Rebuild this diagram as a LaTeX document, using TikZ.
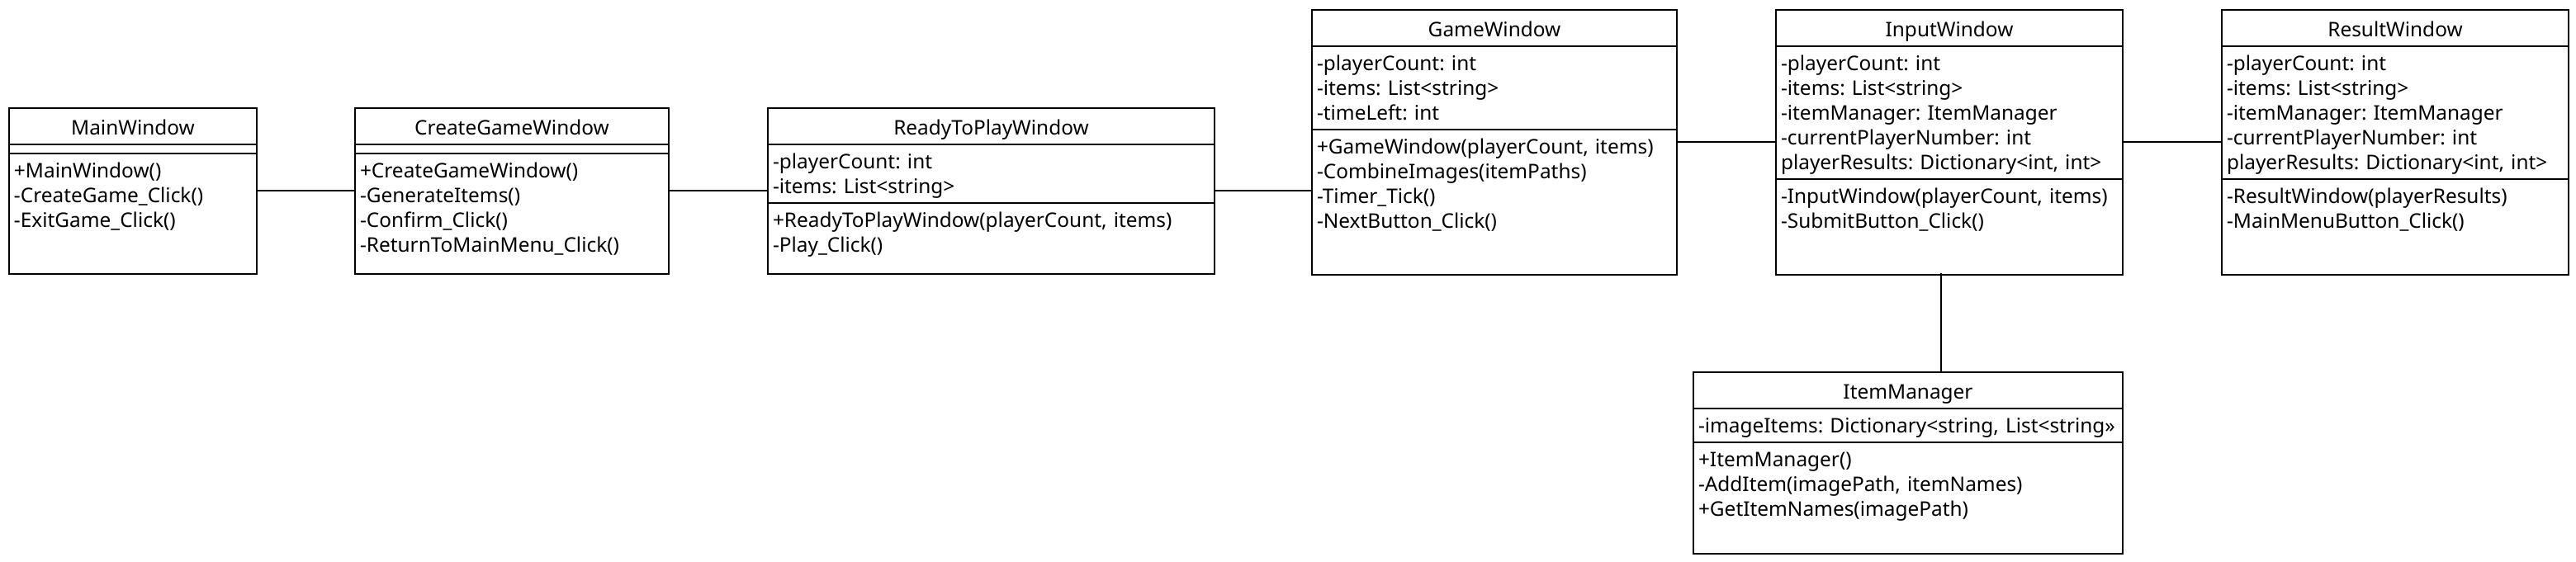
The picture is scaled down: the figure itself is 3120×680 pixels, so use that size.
\documentclass[tikz,border=0pt]{standalone}
\usepackage{fontspec}
\setmainfont{Noto Sans}
\frenchspacing
\usetikzlibrary{positioning}

\begin{document}
\begin{tikzpicture}[%
  x=0.5pt, y=-0.5pt,
  line width=1pt,
  every node/.style={outer sep=0pt},
  cls/.style={anchor=north west, inner sep=0pt},
  ctitle/.style={draw, anchor=north west, minimum height=21.5pt, inner xsep=3pt,
    text height=13pt, text depth=2.5pt, font=\fontsize{12.2}{15}\selectfont},
  cpart/.style={draw, anchor=north west, align=left, inner xsep=3pt, inner ysep=3pt,
    text height=11.5pt, font=\fontsize{12.2}{15}\selectfont},
  cempty/.style={draw, anchor=north west, inner sep=0pt, minimum height=5.5pt},
]

  \useasboundingbox (0,0) rectangle (3120,680);

  % MainWindow
  \node[cls, minimum width=150pt, minimum height=100pt] (main) at (11,131) {};
  \node[ctitle, minimum width=150pt] (main-t) at (main.north west) {MainWindow};
  \node[cempty, minimum width=150pt] (main-a) at (main-t.south west) {};
  \node[cpart, text width=144pt, text depth=55.5pt] (main-m) at (main-a.south west)
    {+MainWindow()\\-CreateGame\_Click()\\-ExitGame\_Click()};

  % CreateGameWindow
  \node[cls, minimum width=190pt, minimum height=100pt] (create) at (430,131) {};
  \node[ctitle, minimum width=190pt] (create-t) at (create.north west) {CreateGameWindow};
  \node[cempty, minimum width=190pt] (create-a) at (create-t.south west) {};
  \node[cpart, text width=184pt, text depth=55.5pt] (create-m) at (create-a.south west)
    {+CreateGameWindow()\\-GenerateItems()\\-Confirm\_Click()\\-ReturnToMainMenu\_Click()};

  % ReadyToPlayWindow
  \node[cls, minimum width=270.5pt, minimum height=100pt] (ready) at (930,131) {};
  \node[ctitle, minimum width=270.5pt] (ready-t) at (ready.north west) {ReadyToPlayWindow};
  \node[cpart, text width=264.5pt, text depth=18pt] (ready-a) at (ready-t.south west)
    {-playerCount: int\\-items: List<string>};
  \node[cpart, text width=264.5pt, text depth=25.5pt] (ready-m) at (ready-a.south west)
    {+ReadyToPlayWindow(playerCount, items)\\-Play\_Click()};

  % GameWindow
  \node[cls, minimum width=221pt, minimum height=159.5pt] (game) at (1589,12) {};
  \node[ctitle, minimum width=221pt, minimum height=21pt] (game-t) at (game.north west) {GameWindow};
  \node[cpart, text width=215pt, text depth=33pt] (game-a) at (game-t.south west)
    {-playerCount: int\\-items: List<string>\\-timeLeft: int};
  \node[cpart, text width=215pt, text depth=70.5pt] (game-m) at (game-a.south west)
    {+GameWindow(playerCount, items)\\-CombineImages(itemPaths)\\-Timer\_Tick()\\-NextButton\_Click()};

  % InputWindow
  \node[cls, minimum width=210pt, minimum height=159.5pt] (input) at (2151,12) {};
  \node[ctitle, minimum width=210pt, minimum height=21pt] (input-t) at (input.north west) {InputWindow};
  \node[cpart, text width=204pt, text depth=63pt] (input-a) at (input-t.south west)
    {-playerCount: int\\-items: List<string>\\-itemManager: ItemManager\\-currentPlayerNumber: int\\playerResults: Dictionary<int, int>};
  \node[cpart, text width=204pt, text depth=40.5pt] (input-m) at (input-a.south west)
    {-InputWindow(playerCount, items)\\-SubmitButton\_Click()};

  % ResultWindow
  \node[cls, minimum width=210pt, minimum height=159.5pt] (result) at (2691,12) {};
  \node[ctitle, minimum width=210pt, minimum height=21pt] (result-t) at (result.north west) {ResultWindow};
  \node[cpart, text width=204pt, text depth=63pt] (result-a) at (result-t.south west)
    {-playerCount: int\\-items: List<string>\\-itemManager: ItemManager\\-currentPlayerNumber: int\\playerResults: Dictionary<int, int>};
  \node[cpart, text width=204pt, text depth=40.5pt] (result-m) at (result-a.south west)
    {-ResultWindow(playerResults)\\-MainMenuButton\_Click()};

  % ItemManager
  \node[cls, minimum width=260pt, minimum height=109.5pt] (item) at (2051,451) {};
  \node[ctitle, minimum width=260pt] (item-t) at (item.north west) {ItemManager};
  \node[cpart, text width=254pt, text depth=3pt] (item-a) at (item-t.south west)
    {-imageItems: Dictionary<string, List<string»};
  \node[cpart, text width=254pt, text depth=50pt] (item-m) at (item-a.south west)
    {+ItemManager()\\-AddItem(imagePath, itemNames)\\+GetItemNames(imagePath)};

  \draw (main) -- (create);
  \draw (create) -- (ready);
  \draw (ready.east) -- (ready.east -| game.west);
  \draw (game) -- (input);
  \draw (input) -- (result);
  \draw ([xshift=-5pt]input.south) -- ([xshift=-5pt]input.south |- item.north);

\end{tikzpicture}
\end{document}
